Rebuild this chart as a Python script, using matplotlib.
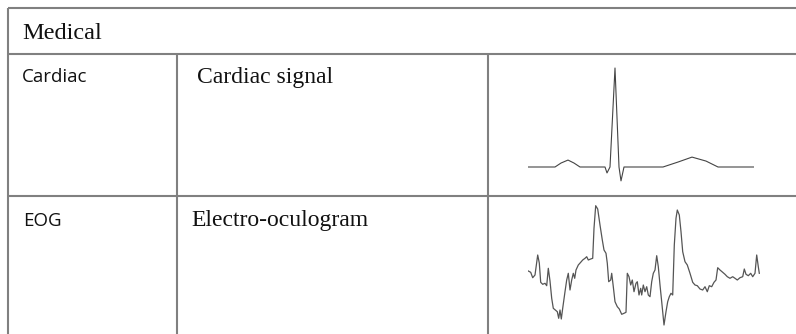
import numpy as np
import matplotlib
matplotlib.use('Agg')
import matplotlib.pyplot as plt

W, H, DPI = 796, 334, 100

### table content
header = 'Medical'
row_names = ['Cardiac', 'EOG']
row_descr = ['Cardiac signal', 'Electro-oculogram']

### waveforms
# cardiac: time in samples, amplitude in mV (R peak = 1)
ecg_t = [0, 27, 33, 40, 46, 52, 77, 79, 82, 87, 91, 93, 96, 135, 150, 164, 178, 190, 226]
ecg_mv = [0, 0, 0.04, 0.07, 0.04, 0, 0, -0.06, 0.0, 1.0, 0.0, -0.14, 0, 0, 0.05, 0.10, 0.06, 0, 0]

# eog: time in samples, amplitude (arbitrary units); 10 values per line
eog_t = [0.3, 2.7, 4.7, 7.0, 9.7, 11.3, 12.7, 14.7, 17.0, 18.7,
         20.3, 22.0, 23.7, 25.3, 27.3, 29.3, 30.7, 32.0, 33.3, 34.7,
         37.0, 38.7, 40.3, 42.0, 43.7, 45.3, 46.7, 48.0, 50.3, 52.7,
         54.7, 57.0, 58.7, 60.3, 62.7, 64.7, 66.0, 67.7, 69.7, 72.0,
         74.3, 76.0, 78.0, 79.3, 80.7, 82.7, 83.7, 85.3, 87.0, 89.3,
         91.3, 93.7, 96.0, 98.0, 99.3, 101.0, 102.7, 104.3, 106.0, 108.0,
         109.3, 111.0, 112.7, 113.7, 115.3, 117.0, 118.7, 120.3, 122.0, 123.7,
         125.3, 127.0, 128.7, 130.3, 132.0, 133.7, 136.0, 138.0, 139.7, 141.3,
         143.0, 144.7, 146.3, 148.0, 149.3, 151.3, 153.0, 154.7, 157.0, 159.3,
         162.0, 164.7, 167.0, 169.3, 172.0, 174.7, 177.0, 179.3, 181.3, 183.7,
         186.0, 188.0, 189.7, 192.0, 194.7, 197.0, 199.3, 202.0, 204.7, 207.0,
         209.3, 212.0, 214.7, 216.3, 218.0, 220.3, 222.7, 224.7, 227.0, 228.7,
         230.3, 231.3]
eog_a = [19, 17.7, 12.3, 15, 35, 27, 7.7, 5.7, 6.7, 4.3,
         21.7, 9, -8.3, -18.3, -20, -21.7, -28.3, -20, -29, -18.3,
         -1.7, 10, 16.7, 0, 10, 16.7, 11.7, 20, 25, 27.7,
         30, 31.7, 33.3, 30, 31, 31.7, 61.7, 84.3, 81, 65,
         50, 40, 36.7, 26.7, 8.3, 10, 16.7, 3.3, -11.7, -16.7,
         -19, -24.3, -23.3, -22.3, 16.7, 13.3, 5, 10, -1.7, 6.7,
         8.3, -5, 1.7, -5, 5, -1.7, 3.3, -5, -6.7, 8.3,
         16.7, 20, 34.3, 23.3, 5, -11.7, -35, -21.7, -11.7, -6.7,
         -3.3, -5, 45, 71.7, 80, 75, 58.3, 38.3, 28.3, 25,
         16.7, 7.7, 5, 4.3, 1, 0, 3.3, -1.7, 4.3, 3.3,
         7.7, 10, 22.3, 20, 17.7, 15.7, 13.3, 11.7, 13.3, 11.7,
         10, 12.3, 13.3, 21, 15.7, 14.3, 16.7, 13.3, 16.7, 35,
         23.3, 16.7]

### layout (figure pixels)
LINE = '#808080'
LW = 1.5
x_left, x_col1, x_col2 = 8, 176.5, 488
y_top, y_head, y_row = 7.5, 53.5, 196

fig = plt.figure(figsize=(W / DPI, H / DPI), dpi=DPI)
ax = fig.add_axes([0, 0, 1, 1])
ax.set_xlim(0, W)
ax.set_ylim(H, 0)
ax.axis('off')

# grid of the table
ax.hlines([y_top, y_head, y_row], x_left, W, color=LINE, lw=LW)
ax.vlines(x_left, y_top, H, color=LINE, lw=LW)
ax.vlines([x_col1, x_col2], y_head, H, color=LINE, lw=LW)

serif = 'Liberation Serif'
sans = 'Open Sans'
ax.text(22, 39, header, family=serif, fontsize=17.5, va='baseline', color='#111111')

name_pos = [(22, 82), (23, 226)]
descr_pos = [(197, 83), (191, 226)]
for name, descr, (nx, ny), (dx, dy) in zip(row_names, row_descr, name_pos, descr_pos):
    ax.text(nx, ny, name, family=sans, fontsize=13.5, va='baseline', color='#111111')
    ax.text(dx, dy, descr, family=serif, fontsize=17, va='baseline', color='#111111')


def inset(x0, x1, y0, y1):
    return fig.add_axes([x0 / W, 1 - y1 / H, (x1 - x0) / W, (y1 - y0) / H])


# cardiac trace: box 528..754 px wide, 1 mV spans 99 px, baseline at y=167
ax1 = inset(528, 754, 60, 185)
ax1.plot(ecg_t, ecg_mv, color='#444444', lw=0.8)
ax1.set_xlim(0, 226)
ax1.set_ylim((167 - 185) / 99, (167 - 60) / 99)
ax1.axis('off')

# eog trace
ax2 = inset(528, 760, 200, 330)
ax2.plot(eog_t, eog_a, color='#555555', lw=0.9)
ax2.set_xlim(0, 232)
ax2.set_ylim(290 - 330, 290 - 200)
ax2.axis('off')

fig.savefig('out.png', dpi=DPI)
